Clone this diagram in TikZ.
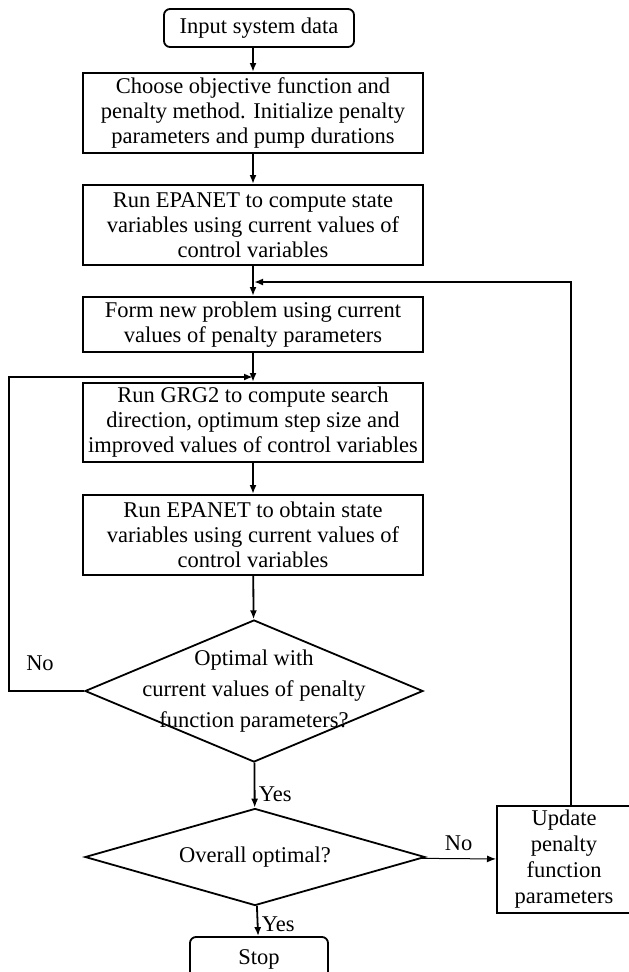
\documentclass[tikz,border=0pt]{standalone}
\usepackage{fontspec}
\setmainfont{Liberation Serif}
\usetikzlibrary{arrows.meta, shapes.geometric, positioning}

\begin{document}
\begin{tikzpicture}[
          x=1pt, y=-1pt,
          every node/.style={align=center, font=\fontsize{22.5}{25}\selectfont},
          stepbox/.style={draw, line width=2pt, minimum width=340pt, inner sep=0pt},
          endbox/.style={draw, line width=1.8pt, rounded corners=6pt, inner sep=0pt},
          decision/.style={draw, diamond, line width=1.8pt, aspect=2.4,
            inner xsep=-40pt, inner ysep=-20pt},
          arrow/.style={-{Latex[length=9pt,width=7pt]}, line width=1.8pt}
        ]
          \useasboundingbox (0,0) rectangle (629,972);

          % Start
          \node[endbox, minimum width=190pt, minimum height=38pt] (input) at (259,28) {Input system data};

          % Boxes of the main column
          \node[stepbox, minimum height=80pt] (choose) at (253,113)
            {Choose objective function and\\penalty method. Initialize penalty\\parameters and pump durations};
          \node[stepbox, minimum height=80pt] (epanet1) at (253,225)
            {Run EPANET to compute state\\variables using current values of\\control variables};
          \node[stepbox, minimum height=55pt] (form) at (253,324.5)
            {Form new problem using current\\values of penalty parameters};
          \node[stepbox, minimum height=79pt] (grg) at (253,422.5)
            {Run GRG2 to compute search\\direction, optimum step size and\\improved values of control variables};
          \node[stepbox, minimum height=80pt] (epanet2) at (253,535)
            {Run EPANET to obtain state\\variables using current values of\\control variables};

          % Decisions
          \node[decision, minimum width=338pt, minimum height=142pt,
            font=\fontsize{22.5}{31}\selectfont] (opt1) at (254,691)
            {Optimal with\\current values of penalty\\function parameters?};
          \node[decision, minimum width=340pt, minimum height=97pt] (opt2) at (255,857)
            {Overall optimal?};

          % Box on the right
          \node[draw, line width=2pt, minimum width=134pt, minimum height=107pt, inner sep=0pt,
            font=\fontsize{22.5}{26}\selectfont] (update) at (564,859.5)
            {Update\\penalty\\function\\parameters};

          % End
          \node[endbox, minimum width=138pt, minimum height=44pt] (stop) at (259,959) {Stop};

          % Arrows
          \draw[arrow] (input.south -| choose.north) -- (choose.north);
          \draw[arrow] (choose) -- (epanet1);
          \draw[arrow] (epanet1) -- (form);
          \draw[arrow] (form) -- (grg);
          \draw[arrow] (grg) -- (epanet2);
          \draw[arrow] (epanet2) -- (opt1);
          \draw[arrow] (opt1) -- node[right, pos=0.7] (yes1) {Yes} (opt2);
          \draw[arrow] (opt2) -- node[right, pos=0.6] (yes2) {Yes} (stop);
          \draw[arrow, line width=1pt] (opt2) -- node[above=4pt] (no2) {No} (update);

          % Loops back
          \coordinate (back1) at (254,282);
          \coordinate (back2) at (253,377);
          \draw[arrow] ([xshift=7pt]update.north) |- (back1);
          \draw[arrow] (opt1.west) -- ++(-75,0) |- (back2);
          \node (no1) at (40,663) {No};
        \end{tikzpicture}
\end{document}
